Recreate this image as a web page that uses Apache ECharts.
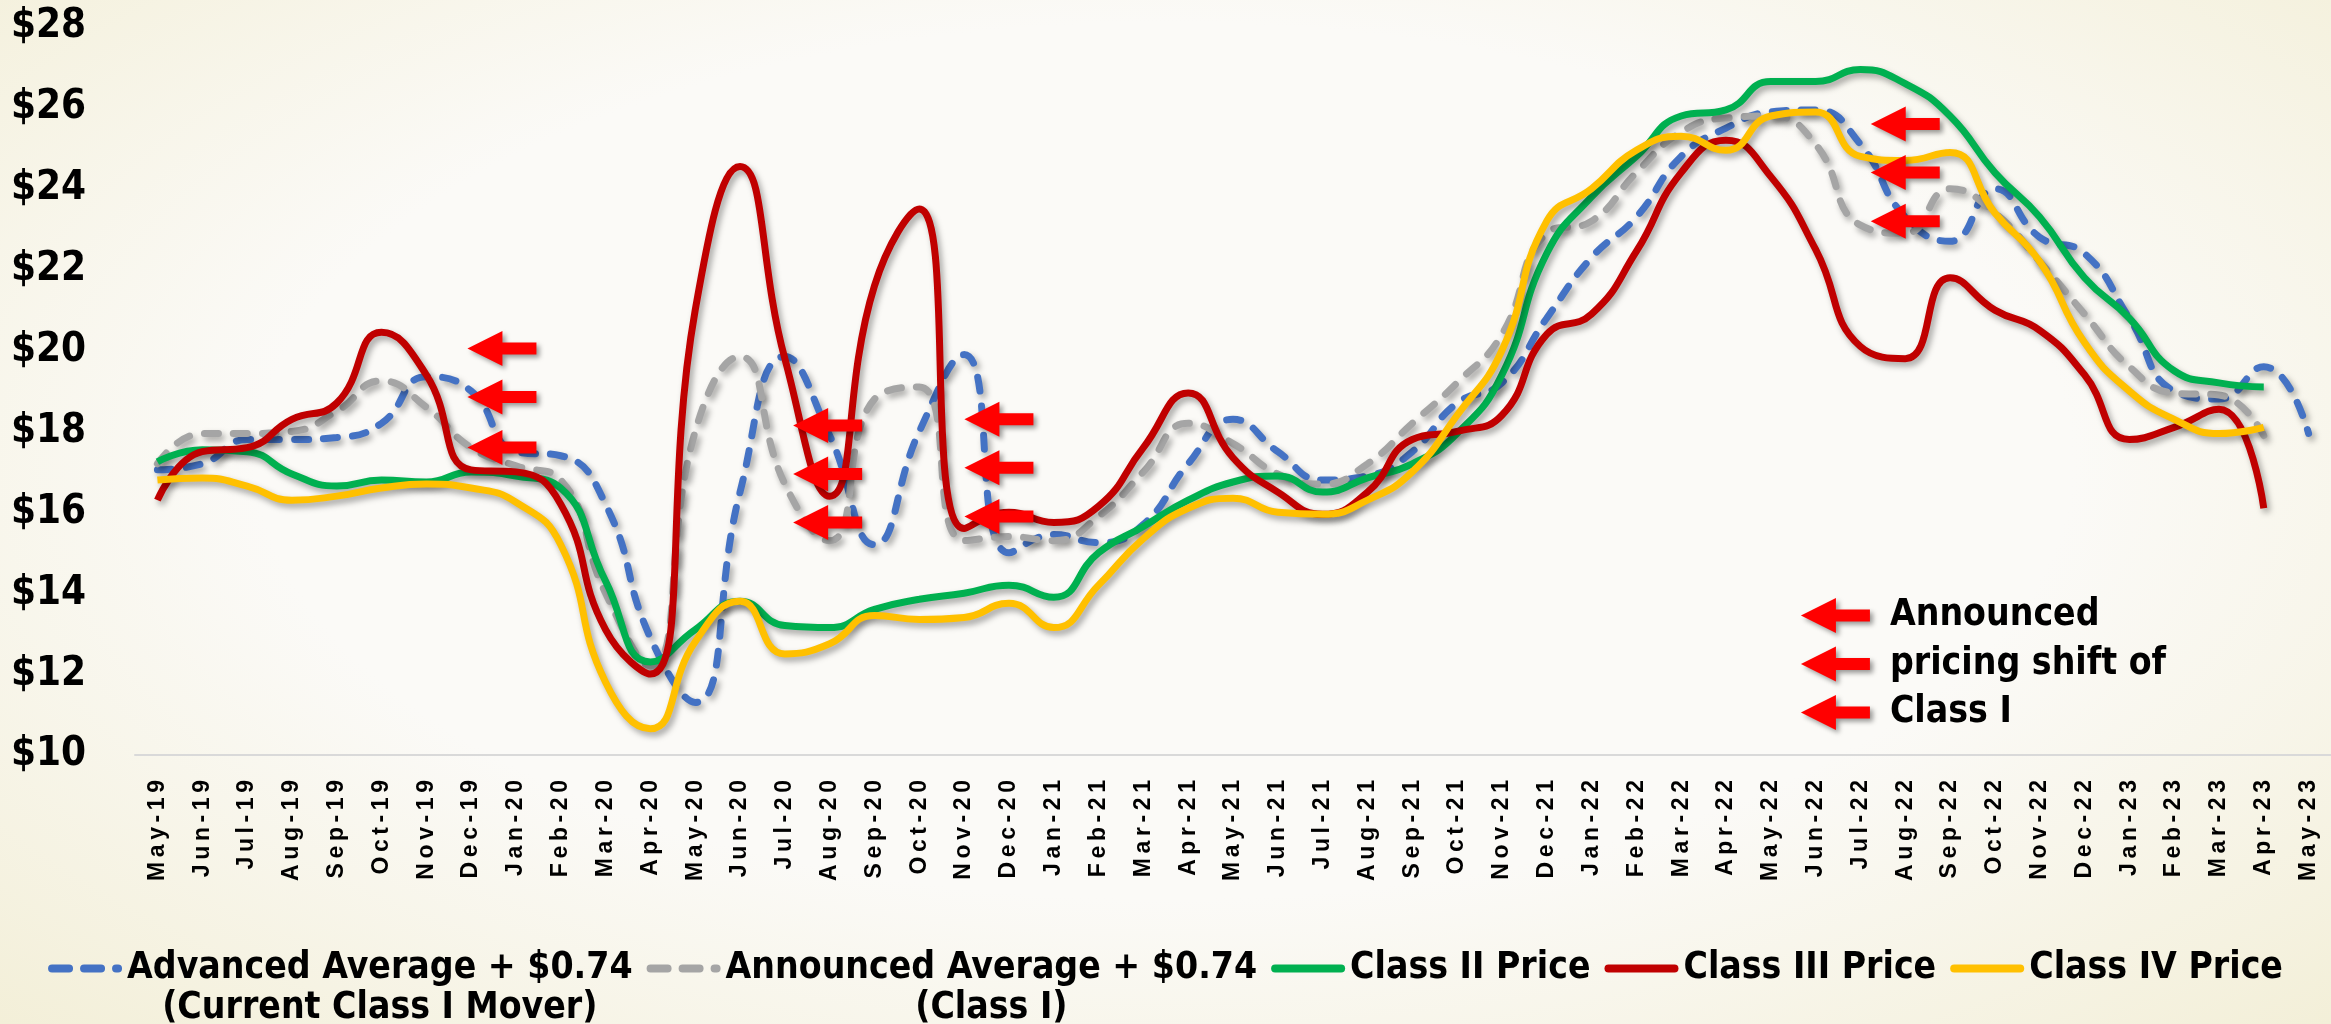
<!DOCTYPE html>
<html>
<head>
<meta charset="utf-8">
<title>Class prices</title>
<script src="https://cdn.jsdelivr.net/npm/echarts@6/dist/echarts.min.js"></script>
<style>
  html, body { margin: 0; padding: 0; }
  body {
    width: 2331px; height: 1024px; overflow: hidden;
    background: radial-gradient(ellipse at 50% 45%, #fbfaf7 55%, #f3efd8 100%);
  }
  #chart { width: 2331px; height: 1024px; }
</style>
</head>
<body>
<div id="chart"></div>
<script>
const months = [
  'May-19', 'Jun-19', 'Jul-19', 'Aug-19', 'Sep-19', 'Oct-19', 'Nov-19', 'Dec-19',
  'Jan-20', 'Feb-20', 'Mar-20', 'Apr-20', 'May-20', 'Jun-20', 'Jul-20', 'Aug-20',
  'Sep-20', 'Oct-20', 'Nov-20', 'Dec-20', 'Jan-21', 'Feb-21', 'Mar-21', 'Apr-21',
  'May-21', 'Jun-21', 'Jul-21', 'Aug-21', 'Sep-21', 'Oct-21', 'Nov-21', 'Dec-21',
  'Jan-22', 'Feb-22', 'Mar-22', 'Apr-22', 'May-22', 'Jun-22', 'Jul-22', 'Aug-22',
  'Sep-22', 'Oct-22', 'Nov-22', 'Dec-22', 'Jan-23', 'Feb-23', 'Mar-23', 'Apr-23',
  'May-23'
]

// Advanced Average + $0.74 (current Class I mover)
const advanced = [
  17.05, 17.2, 17.8, 17.8, 17.85, 18.2, 19.35, 19.0,
  17.5, 17.4, 16.2, 12.9, 11.3, 16.5, 19.85, 17.9,
  15.2, 18.0, 19.9, 15.0, 15.45, 15.25, 15.7, 17.2,
  18.3, 17.5, 16.8, 16.9, 17.5, 18.7, 19.2, 20.8,
  22.3, 23.3, 24.8, 25.5, 25.9, 25.95, 25.1, 23.3,
  22.7, 24.0, 22.8, 22.4, 20.8, 19.0, 18.8, 19.6,
  17.95
]
// Announced Average + $0.74 (Class I)
const announced = [
  17.2, 17.95, 17.95, 18.0, 18.5, 19.25, 18.6, 17.6,
  17.15, 16.8, 14.0, 12.2, 18.0, 19.85, 16.7, 15.3,
  18.8, 19.1, 15.3, 15.4, 15.3, 15.9, 17.0, 18.2,
  17.7, 16.95, 16.7, 17.2, 18.2, 19.2, 20.4, 22.9,
  23.2, 24.4, 25.4, 25.75, 25.8, 25.1, 23.1, 22.9,
  24.0, 23.4, 22.2, 20.9, 19.6, 18.95, 18.9, 17.9
]
const classII = [
  17.25, 17.55, 17.5, 16.95, 16.65, 16.8, 16.75, 17.0,
  16.9, 16.6, 14.3, 12.3, 13.1, 13.8, 13.2, 13.15,
  13.6, 13.85, 14.0, 14.2, 13.9, 15.0, 15.65, 16.3,
  16.75, 16.9, 16.5, 16.85, 17.2, 17.95, 19.4, 22.4,
  23.8, 24.8, 25.8, 25.95, 26.65, 26.65, 26.95, 26.6,
  25.8, 24.4, 23.3, 21.8, 20.8, 19.5, 19.2, 19.1
]
const classIII = [
  16.3, 17.5, 17.6, 18.3, 18.7, 20.45, 19.4, 17.05,
  17.0, 16.2, 13.1, 12.0, 21.0, 24.55, 19.8, 16.4,
  21.6, 23.5, 15.6, 16.0, 15.75, 16.15, 17.6, 18.95,
  17.35, 16.5, 15.95, 16.5, 17.8, 18.0, 18.4, 20.4,
  20.9, 22.45, 24.4, 25.2, 24.3, 22.5, 20.1, 19.8,
  21.8, 21.0, 20.5, 19.4, 17.8, 18.1, 18.55, 16.1
]
const classIV = [
  16.8, 16.85, 16.65, 16.3, 16.4, 16.6, 16.7, 16.6,
  16.25, 15.2, 11.8, 10.65, 12.8, 13.8, 12.5, 12.75,
  13.45, 13.35, 13.4, 13.75, 13.15, 14.2, 15.35, 16.1,
  16.35, 16.0, 15.95, 16.3, 17.0, 18.4, 20.0, 23.2,
  24.0, 24.95, 25.3, 24.95, 25.8, 25.9, 24.8, 24.7,
  24.9, 23.4, 22.2, 20.2, 19.0, 18.3, 17.95, 18.1
]
const yTicks = [10, 12, 14, 16, 18, 20, 22, 24, 26, 28]

// red arrows: announced pricing shifts of Class I (month, price level)
const shiftArrows = [
  ['Jan-20', 20.05], ['Jan-20', 18.85], ['Jan-20', 17.6],
  ['Aug-20', 18.15], ['Aug-20', 16.95], ['Aug-20', 15.75],
  ['Dec-20', 18.3], ['Dec-20', 17.1], ['Dec-20', 15.9],
  ['Aug-22', 25.6], ['Aug-22', 24.4], ['Aug-22', 23.2]
]
const keyArrows = [['Jul-22', 13.45], ['Jul-22', 12.25], ['Jul-22', 11.05]]
const keyText = ['Announced', 'pricing shift of', 'Class I']

const arrowNudge = {'Jan-20': -14, 'Aug-20': -2, 'Dec-20': -10, 'Aug-22': 0, 'Jul-22': -25}

const condFont = "'DejaVu Sans Condensed', 'Liberation Sans Narrow', sans-serif"
const arrowPath = 'path://M0,17.5L35,0L35,11.5L69,11.5L69,23.5L35,23.5L35,35Z'
// legend keys: thick rounded bar, or two dashes and a dot
const solidKey = 'path://M4,0H70A4,4,0,0,1,70,8H4A4,4,0,0,1,4,0Z'
const dashKey = 'path://M4,0H21A4,4,0,0,1,21,8H4A4,4,0,0,1,4,0Z' +
  'M36,0H53A4,4,0,0,1,53,8H36A4,4,0,0,1,36,0Z' +
  'M68,0H70A4,4,0,0,1,70,8H68A4,4,0,0,1,68,0Z'

const lineShadow = {
  shadowColor: 'rgba(0, 0, 0, 0.35)',
  shadowBlur: 6,
  shadowOffsetX: 3,
  shadowOffsetY: 4
}

const makeLine = (name, data, color, dashed) => ({
  name: name,
  type: 'line',
  data: data,
  smooth: 0.5,
  showSymbol: false,
  symbol: 'none',
  lineStyle: Object.assign({
    color: color,
    width: 7,
    type: dashed ? [14, 15] : 'solid',
    cap: dashed ? 'round' : 'butt',
  }, lineShadow),
  itemStyle: {color: color}
})

const arrowPoint = (item, label) => ({
  coord: [item[0], item[1]],
  symbolOffset: [arrowNudge[item[0]], 0],
  label: label ? {
    show: true,
    position: 'right',
    distance: 20,
    formatter: label,
    color: '#000',
    fontSize: 37,
    fontWeight: 'bold',
    fontFamily: condFont
  } : {show: false}
})

const advancedName = 'Advanced Average + $0.74\n(Current Class I Mover)'
const announcedName = 'Announced Average + $0.74\n(Class I)'

const series = [
  makeLine(advancedName, advanced, '#4472c4', true),
  makeLine(announcedName, announced, '#a5a5a5', true),
  makeLine('Class II Price', classII, '#00b050', false),
  makeLine('Class III Price', classIII, '#c00000', false),
  makeLine('Class IV Price', classIV, '#ffc000', false)
]
series[4].markPoint = {
  symbol: arrowPath,
  symbolSize: [69, 35],
  silent: true,
  itemStyle: {
    color: '#ff0000',
    shadowColor: 'rgba(0, 0, 0, 0.4)',
    shadowBlur: 5,
    shadowOffsetX: 3,
    shadowOffsetY: 3
  },
  label: {show: false},
  data: shiftArrows.map(a => arrowPoint(a, null))
    .concat(keyArrows.map((a, i) => arrowPoint(a, keyText[i])))
}

const chart = echarts.init(document.getElementById('chart'))
const option = {
  animation: false,
  backgroundColor: 'transparent',
  grid: {left: 135, right: 0, top: 27, bottom: 269},
  legend: {
    left: 'center',
    top: 945,
    itemWidth: 74,
    itemHeight: 8,
    itemGap: 14,
    data: series.map((s, i) => ({name: s.name, icon: i < 2 ? dashKey : solidKey})),
    formatter: name => {
      const parts = name.split('\n')
      return '{t|' + parts[0] + '}\n{s|' + (parts[1] || ' ') + '}'
    },
    textStyle: {
      padding: [40, 0, 0, 0],
      rich: {
        t: {fontSize: 37, fontWeight: 'bold', fontFamily: condFont, color: '#000', lineHeight: 40, align: 'center'},
        s: {fontSize: 37, fontWeight: 'bold', fontFamily: condFont, color: '#000', lineHeight: 40, align: 'center'}
      }
    }
  },
  xAxis: {
    type: 'category',
    data: months,
    boundaryGap: true,
    axisLine: {lineStyle: {color: '#d9d9d9', width: 2}},
    axisTick: {show: false},
    axisLabel: {
      interval: 0,
      rotate: 90,
      margin: 25,
      color: '#000',
      fontSize: 23,
      fontWeight: 'bold',
      fontFamily: "'Liberation Sans', Arial, sans-serif",
      formatter: v => v.split('').join('\u2009')
    }
  },
  yAxis: {
    type: 'value',
    min: yTicks[0],
    max: yTicks[yTicks.length - 1],
    interval: yTicks[1] - yTicks[0],
    splitLine: {show: false},
    axisLine: {show: false},
    axisTick: {show: false},
    axisLabel: {
      margin: 49,
      color: '#000',
      fontSize: 40,
      fontWeight: 'bold',
      fontFamily: condFont,
      formatter: v => '$' + v
    }
  },
  series: series
}
chart.setOption(option)
</script>
</body>
</html>
